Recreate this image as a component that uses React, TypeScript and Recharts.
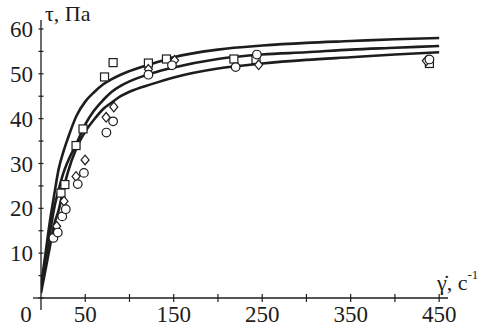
import React from "react";
import { ComposedChart, Line, Scatter, XAxis, YAxis } from "recharts";

const FONT = "'Liberation Serif', Tinos, 'Times New Roman', Times, 'DejaVu Serif', 'Noto Serif', serif";
const INK = "#1d1d1b";

// fitted curves
const curveX = [0, 5, 10, 15, 20, 25, 30, 40, 50, 60, 70, 80, 90, 100, 125, 150, 200, 250, 300, 350, 400, 450];
const upperCurve = [2.7, 9.8, 17, 23.1, 28.8, 32.4, 35.4, 40.6, 43.8, 45.9, 47.6, 48.8, 49.8, 50.6, 52.2, 53.7, 55.4, 56.3, 56.9, 57.3, 57.7, 58];
const middleCurve = [2.1, 8.3, 14.4, 20.1, 24.2, 27.7, 30.3, 34.4, 38.7, 41.8, 44.1, 46, 47.3, 48.3, 50.1, 51.4, 53.3, 54.3, 54.8, 55.4, 55.8, 56.2];
const lowerCurve = [1.1, 6.2, 11.4, 16.5, 19.6, 24, 27.8, 33.4, 37.1, 39.8, 42.1, 43.6, 45, 46, 47.7, 49.2, 51.2, 52.3, 53.1, 53.7, 54.3, 54.8];

// measured points
const squareX = [22.6, 27, 39.6, 47.5, 71.8, 81.5, 121.4, 141.8, 218, 243, 439];
const squareY = [23.4, 25.3, 34, 37.7, 49.3, 52.5, 52.4, 53.3, 53.3, 53.2, 52.3];
const circleX = [14, 19, 24, 28, 41.5, 48.5, 73.9, 81.5, 121.4, 148, 220, 244, 439];
const circleY = [13.4, 14.6, 18.2, 19.8, 25.4, 27.9, 36.9, 39.4, 49.8, 51.9, 51.5, 54.3, 53.2];
const diamondX = [17.7, 26, 39.6, 49.8, 73.6, 82.3, 121.4, 151, 246, 435.5];
const diamondY = [16, 21.6, 27.1, 30.8, 40.3, 42.6, 51, 53, 52, 52.9];

const xTicks = [0, 50, 100, 150, 200, 250, 300, 350, 400, 450];
const yTicks = [0, 5, 10, 15, 20, 25, 30, 35, 40, 45, 50, 55, 60];

const toPoints = (xs: number[], ys: number[]) => xs.map((x, i) => ({ x, y: ys[i] }));

const upperData = toPoints(curveX, upperCurve);
const middleData = toPoints(curveX, middleCurve);
const lowerData = toPoints(curveX, lowerCurve);
const squares = toPoints(squareX, squareY);
const circles = toPoints(circleX, circleY);
const diamonds = toPoints(diamondX, diamondY);

const markStyle = { fill: "#fff", stroke: INK, strokeWidth: 1.2 };

const Square = (p: any) => <rect x={p.cx - 4} y={p.cy - 4} width={8} height={8} {...markStyle} />;
const Circle = (p: any) => <circle cx={p.cx} cy={p.cy} r={4.3} {...markStyle} />;
const Diamond = (p: any) => (
  <path
    d={`M${p.cx},${p.cy - 4.8}L${p.cx + 4},${p.cy}L${p.cx},${p.cy + 4.8}L${p.cx - 4},${p.cy}Z`}
    {...markStyle}
  />
);

const YTick = (props: any) => {
  const { x, y, payload } = props;
  const v = payload.value;
  return (
    <g>
      <line x1={x - 2.5} x2={x + 2.5} y1={y} y2={y} stroke={INK} strokeWidth={1.2} />
      {v === 0 && <line x1={x} x2={x} y1={y} y2={y + 12} stroke={INK} strokeWidth={1.3} />}
      {v > 0 && v % 10 === 0 && (
        <text x={x - 8} y={y} dy="0.35em" textAnchor="end" style={{ fontFamily: FONT }} fontSize={23} fill={INK}>
          {v}
        </text>
      )}
    </g>
  );
};

const XTick = (props: any) => {
  const { x, y, payload } = props;
  const v = payload.value;
  const labelled = v === 0 || (v / 50) % 2 === 1;
  return (
    <g>
      {v > 0 && <line x1={x} x2={x} y1={y - 4} y2={y + 4} stroke={INK} strokeWidth={1.2} />}
      {v === 0 && <line x1={x - 8} x2={x} y1={y} y2={y} stroke={INK} strokeWidth={1.3} />}
      {labelled && (
        <text x={v === 0 ? x - 15 : x} y={y + 24} textAnchor="middle" style={{ fontFamily: FONT }} fontSize={23} fill={INK}>
          {v}
        </text>
      )}
    </g>
  );
};

export default function App() {
  return (
    <div style={{ position: "absolute", left: 0, top: 0, width: 484, height: 329, background: "#fff", fontFamily: FONT }}>
      <ComposedChart width={484} height={329} margin={{ top: 20, right: 36, bottom: 0, left: 0 }}>
        <XAxis
          type="number"
          dataKey="x"
          domain={[0, 460]}
          ticks={xTicks}
          interval={0}
          height={31}
          tickSize={0}
          tickMargin={0}
          tick={<XTick />}
          axisLine={{ stroke: INK, strokeWidth: 1.3 }}
          allowDataOverflow
        />
        <YAxis
          type="number"
          dataKey="y"
          domain={[0, 62]}
          ticks={yTicks}
          interval={0}
          width={41}
          tickSize={0}
          tickMargin={0}
          tick={<YTick />}
          axisLine={{ stroke: INK, strokeWidth: 1.3 }}
          allowDataOverflow
        />
        <Line data={upperData} dataKey="y" type="monotone" stroke={INK} strokeWidth={2.6} dot={false} isAnimationActive={false} />
        <Line data={middleData} dataKey="y" type="monotone" stroke={INK} strokeWidth={2.6} dot={false} isAnimationActive={false} />
        <Line data={lowerData} dataKey="y" type="monotone" stroke={INK} strokeWidth={2.6} dot={false} isAnimationActive={false} />
        <Scatter data={squares} dataKey="y" shape={Square} isAnimationActive={false} />
        <Scatter data={diamonds} dataKey="y" shape={Diamond} isAnimationActive={false} />
        <Scatter data={circles} dataKey="y" shape={Circle} isAnimationActive={false} />
      </ComposedChart>
      <svg width={484} height={329} style={{ position: "absolute", left: 0, top: 0, pointerEvents: "none" }}>
        <text x={45} y={21} style={{ fontFamily: FONT }} fontSize={22} fill={INK}>
          τ, Па
        </text>
        <text x={437} y={290} style={{ fontFamily: FONT }} fontSize={22} fill={INK}>
          γ̇, с
          <tspan fontSize={13} dy={-11}>-1</tspan>
        </text>
      </svg>
    </div>
  );
}
